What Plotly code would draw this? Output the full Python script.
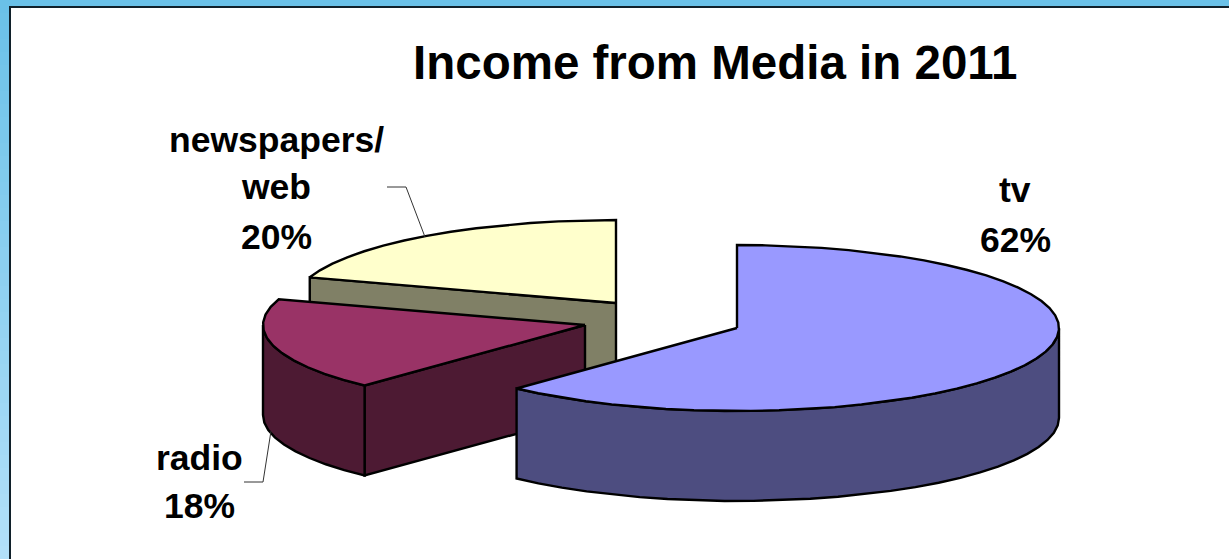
import numpy as np
import plotly.graph_objects as go

title = "Income from Media in 2011"
categories = ["tv", "radio", "newspapers/<br>web"]
shares = [62, 18, 20]
top_colors = ["#9999FF", "#993366", "#FFFFCC"]
side_colors = ["#4D4D80", "#4D1A33", "#808066"]

W, H = 1229, 559
RX, RY, DEPTH = 322, 83, 90
centers = [(737, 328), (585, 325), (616, 303)]   # exploded slice hubs

starts = np.cumsum([0] + shares[:-1]) / 100 * 360
ends = np.cumsum(shares) / 100 * 360


def rim(cx, cy, a0, a1, dy=0):
    n = max(int(abs(a1 - a0) / 5), 2) + 1
    t = np.radians(np.linspace(a0, a1, n))
    return cx + RX * np.sin(t), cy - RY * np.cos(t) + dy


def poly(fig, xs, ys, color):
    fig.add_trace(go.Scatter(x=list(xs), y=list(ys), mode="lines", fill="toself",
                             fillcolor=color, hoverinfo="skip",
                             line=dict(color="black", width=2.4)))


fig = go.Figure()
for i in [2, 1, 0]:
    cx, cy = centers[i]
    a0, a1 = starts[i], ends[i]
    # radial walls facing the viewer
    walls = []
    if np.sin(np.radians(a0)) < -1e-9:
        walls.append(a0)
    if np.sin(np.radians(a1)) > 1e-9:
        walls.append(a1)
    for a in walls:
        ex, ey = rim(cx, cy, a, a)
        ex, ey = ex[0], ey[0]
        poly(fig, [cx, ex, ex, cx, cx], [cy, ey, ey + DEPTH, cy + DEPTH, cy], side_colors[i])
    # outer wall (front part of the rim only)
    v0, v1 = max(a0, 90), min(a1, 270)
    if v1 > v0:
        tx, ty = rim(cx, cy, v0, v1)
        bx, by = rim(cx, cy, v1, v0, DEPTH)
        poly(fig, np.r_[tx, bx, tx[0]], np.r_[ty, by, ty[0]], side_colors[i])
    # top face
    rx_, ry_ = rim(cx, cy, a0, a1)
    poly(fig, np.r_[cx, rx_, cx], np.r_[cy, ry_, cy], top_colors[i])

# leader lines
for xs, ys in [([387, 406, 425], [187, 187, 237]), ([244, 263, 271], [482, 482, 431])]:
    fig.add_trace(go.Scatter(x=xs, y=ys, mode="lines", hoverinfo="skip",
                             line=dict(color="#333333", width=1)))

font = "Liberation Sans, Arial, sans-serif"
label_pos = [(1015, [190, 240]), (199, [458, 506]), (276, [140, 187, 237])]
annotations = [dict(x=(413 + 1018) / 2, y=62, text=f"<b>{title}</b>", showarrow=False,
                    font=dict(family=font, size=47.5, color="black"))]
for cat, val, (x, ys) in zip(categories, shares, label_pos):
    for line, y in zip(cat.split("<br>") + [f"{val}%"], ys):
        annotations.append(dict(x=x, y=y, text=f"<b>{line}</b>", showarrow=False,
                                font=dict(family=font, size=35.5, color="black")))

# slide frame: blue band with a vertical gradient on the left, black rule inside it
shapes = []
c0, c1 = np.array([106, 193, 232]), np.array([178, 224, 249])
edges = np.arange(0, H + 13, 13)
for k, y in enumerate(edges[:-1]):
    c = c0 + (c1 - c0) * k / (len(edges) - 2)
    shapes.append(dict(type="rect", layer="below", x0=0, x1=9, y0=int(y), y1=int(edges[k + 1]),
                       fillcolor=f"rgb({c[0]:.0f},{c[1]:.0f},{c[2]:.0f})", line_width=0))
shapes += [
    dict(type="rect", layer="below", x0=0, x1=W, y0=0, y1=6, fillcolor="rgb(106,193,232)", line_width=0),
    dict(type="rect", layer="below", x0=9, x1=W, y0=6, y1=8, fillcolor="#10202A", line_width=0),
    dict(type="rect", layer="below", x0=9, x1=11, y0=6, y1=H, fillcolor="#10202A", line_width=0),
]

fig.update_layout(
    width=W, height=H, autosize=False, showlegend=False,
    margin=dict(l=0, r=0, t=0, b=0),
    paper_bgcolor="white", plot_bgcolor="white",
    xaxis=dict(range=[0, W], visible=False, fixedrange=True),
    yaxis=dict(range=[H, 0], visible=False, fixedrange=True),
    annotations=annotations, shapes=shapes,
)
fig.write_html("out.html", config={"displayModeBar": False},
               post_script="document.body.style.margin='0';document.body.style.overflow='hidden';")
